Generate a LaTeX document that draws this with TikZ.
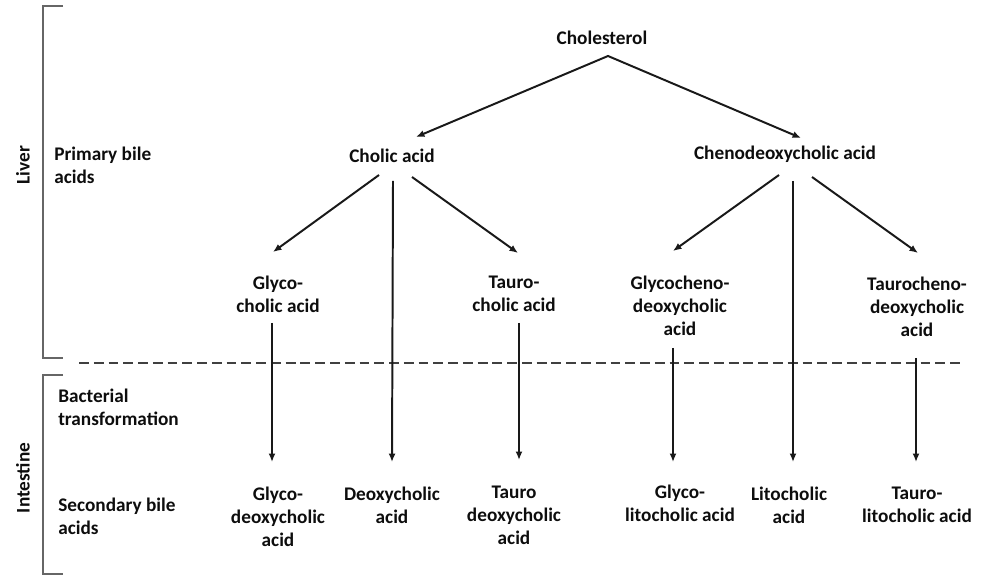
\documentclass[tikz,border=0pt]{standalone}
\usepackage{fontspec}
\setmainfont{Carlito}
\usetikzlibrary{positioning, calc, arrows.meta}

\begin{document}
\begin{tikzpicture}[x=0.025cm, y=-0.025cm, >={Latex[length=6pt,width=5pt]},
    font=\fontsize{13.7}{16.4}\selectfont\bfseries,
    every node/.style={align=center, inner sep=0pt, text=black!95},
    arr/.style={draw=black!90, line width=1.4pt},
    brace/.style={draw=black!60, line width=1pt}]
    \useasboundingbox (0,0) rectangle (986,576);

    % left side
    \node[rotate=90] (liver) at (23,165) {Liver};
    \node[rotate=90] (intestine) at (23,478) {Intestine};
    \node[anchor=west, align=left] (primary) at (54,165) {Primary bile\\acids};
    \node[anchor=west, align=left] (bact) at (58,407) {Bacterial\\transformation};
    \node[anchor=west, align=left] (second) at (58,516) {Secondary bile\\acids};
    \draw[brace] (63,6) -- (43,6) -- (43,358) -- (63,358);
    \draw[brace] (63,375) -- (43,375) -- (43,574) -- (63,574);
    \draw[black!75, line width=1pt, dash pattern=on 7pt off 3.5pt] (79,363) -- (963,363);

    % compounds
    \node (chol) at (602,38) {Cholesterol};
    \node (cholic) at (392,156) {Cholic acid};
    \node (cheno) at (785,154) {Chenodeoxycholic acid};
    \node (gc) at (278,294) {Glyco-\\cholic acid};
    \node (tc) at (514,294) {Tauro-\\cholic acid};
    \node (gcdc) at (680,306) {Glycocheno-\\deoxycholic\\acid};
    \node (tcdc) at (917,307) {Taurocheno-\\deoxycholic\\acid};
    \node (gdc) at (278,517) {Glyco-\\deoxycholic\\acid};
    \node (dc) at (392,505) {Deoxycholic\\acid};
    \node (tdc) at (514,515) {Tauro\\deoxycholic\\acid};
    \node (glc) at (680,503) {Glyco-\\litocholic acid};
    \node (lc) at (789,505) {Litocholic\\acid};
    \node (tlc) at (917,505) {Tauro-\\litocholic acid};

    \coordinate (apex) at ($(chol)+(6,18)$);
    \draw[arr, <->] ($(cholic)+(24,-19)$) -- (apex) -- ($(cheno)+(16,-16)$);

    \draw[arr, ->] ($(cholic)+(-13,19)$) -- ($(gc)+(-5,-42)$);
    \draw[arr, ->] ($(cholic)+(1,25)$) -- ($(dc)+(0,-43)$);
    \draw[arr, ->] ($(cholic)+(20,21)$) -- ($(tc)+(4,-41)$);
    \draw[arr, ->] ($(cheno)+(-6,21)$) -- ($(gcdc)+(-7,-55)$);
    \draw[arr, ->] ($(cheno)+(8,27)$) -- ($(lc)+(4,-43)$);
    \draw[arr, ->] ($(cheno)+(27,23)$) -- ($(tcdc)+(1,-54)$);

    \draw[arr, ->] ($(gc)+(-6,29)$) -- ($(gdc)+(-6,-55)$);
    \draw[arr, ->] ($(tc)+(5,29)$) -- ($(tdc)+(5,-55)$);
    \draw[arr, ->] ($(gcdc)+(-7,42)$) -- ($(glc)+(-7,-41)$);
    \draw[arr, ->] ($(tcdc)+(-1,51)$) -- ($(tlc)+(-1,-43)$);
\end{tikzpicture}
\end{document}
